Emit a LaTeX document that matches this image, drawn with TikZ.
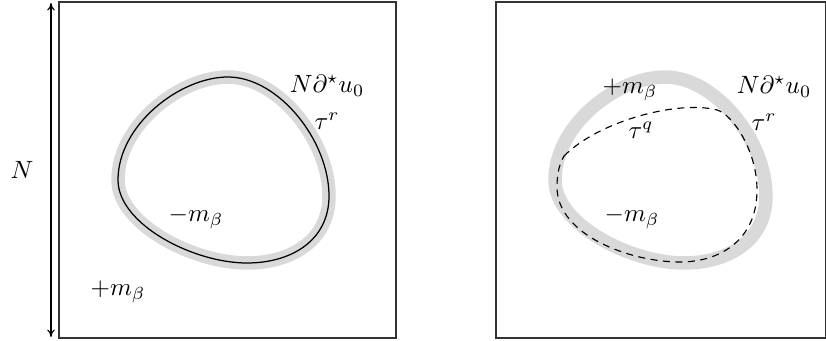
\documentclass[tikz,border=0pt]{standalone}
\usetikzlibrary{arrows.meta}
\begin{document}
\begin{tikzpicture}[x=0.4pt,y=-0.4pt,
  band/.style={line width=5.4pt,draw=black!15,line join=round},
  frame/.style={draw=black!80,line width=0.5pt},
  lbl/.style={inner sep=0pt,font=\normalsize}]
\useasboundingbox (0,0) rectangle (826,340);
\def\loopshape{(228,77) .. controls (278,77) and (329,140) .. (329,196)
  .. controls (329,240) and (292,263) .. (247,263)
  .. controls (193,263) and (118,224) .. (118,180)
  .. controls (118,125) and (180,77) .. cycle}
% frames
\draw[frame] (59,2) rectangle (396,338);
\draw[frame] (496,2) rectangle (825.5,338);
% dimension arrow
\coordinate (atop) at (51,3);
\coordinate (abot) at (51,337);
\draw[{To[length=3pt,width=3pt]}-{To[length=3pt,width=3pt]},line width=0.45pt] (atop) -- (abot);
\node[lbl] (N) at (22,170) {$N$};
% left loop
\draw[band] \loopshape;
\draw[line width=0.5pt] \loopshape;
\node[lbl] (Lpu) at (327,86) {$N\partial^\star u_0$};
\node[lbl] (Ltr) at (327,121) {$\tau^r$};
\node[lbl] (Lmm) at (196,218) {$-m_\beta$};
\node[lbl] (Lpm) at (118,292) {$+m_\beta$};
% right loop
\begin{scope}[xshift=437*0.4pt]
\draw[band] \loopshape;
\end{scope}
\coordinate (J) at (564,156);
\draw[dash pattern=on 2.8pt off 2.2pt,line width=0.45pt]
  (J) .. controls (600,120) and (680,100) .. (717,110)
  .. controls (732,114) and (757,150) .. (757,190)
  .. controls (757,240) and (720,262) .. (680,262)
  .. controls (630,262) and (557,235) .. (557,187)
  .. controls (557,172) and (560,163) .. (J);
\node[lbl] (Rpm) at (630,90) {$+m_\beta$};
\node[lbl] (Rtq) at (641,130) {$\tau^q$};
\node[lbl] (Rmm) at (632,218) {$-m_\beta$};
\node[lbl] (Rpu) at (774,87) {$N\partial^\star u_0$};
\node[lbl] (Rtr) at (764,122) {$\tau^r$};
\end{tikzpicture}
\end{document}
